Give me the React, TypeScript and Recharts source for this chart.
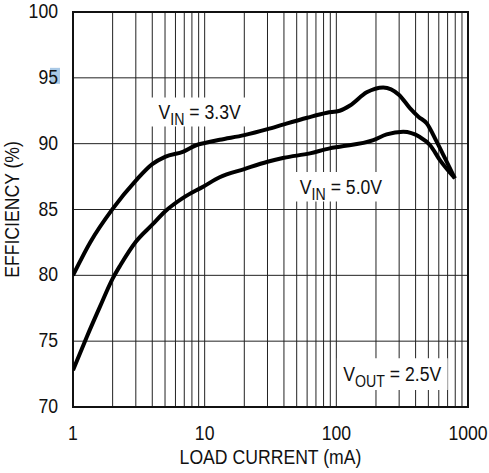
import { LineChart, Line, XAxis, YAxis, CartesianGrid, ReferenceArea, Label } from 'recharts'

// efficiency vs load current
const load33 = [1, 1.35, 2, 3, 4, 5, 6.9, 8.7, 10, 13, 20, 30, 40, 60, 85, 106, 127, 170, 227, 300, 362, 420, 485, 578, 668, 795]
const eff33 = [80, 82.5, 85.05, 87.2, 88.45, 89.0, 89.4, 89.9, 90.05, 90.3, 90.65, 91.1, 91.47, 91.97, 92.35, 92.5, 92.9, 93.9, 94.27, 93.7, 92.7, 92.05, 91.55, 90.15, 88.9, 87.37]

const load50 = [1, 1.27, 1.6, 2, 2.3, 3, 4, 5, 6.9, 9.8, 13, 20, 30, 40, 63, 89, 106, 191, 241, 322, 431, 514, 612, 795]
const eff50 = [72.8, 75.3, 77.6, 79.75, 80.8, 82.55, 83.85, 84.85, 85.9, 86.75, 87.45, 88.07, 88.63, 88.93, 89.26, 89.64, 89.77, 90.27, 90.7, 90.9, 90.5, 89.9, 88.75, 87.37]

const decadeTicks = [1, 10, 100, 1000]
const minorTicks = [
  1, 2, 3, 4, 5, 6, 7, 8, 9,
  10, 20, 30, 40, 50, 60, 70, 80, 90,
  100, 200, 300, 400, 500, 600, 700, 800, 900,
  1000,
]
const yTicks = [70, 75, 80, 85, 90, 95, 100]

const FONT = "'Liberation Sans', Arial, sans-serif"
const FS = 20.5
const SQUEEZE = 0.86 // the original uses a condensed face

const data33 = load33.map((x, i) => ({ x, y: eff33[i] }))
const data50 = load50.map((x, i) => ({ x, y: eff50[i] }))

// condensed-looking text: regular face squeezed horizontally
function Narrow({ x, y, anchor = 'middle', rotate = 0, size = FS, children }: any) {
  return (
    <g transform={`translate(${x},${y}) rotate(${rotate}) scale(${SQUEEZE},1)`}>
      <text x={0} y={0} textAnchor={anchor} fontFamily={FONT} fontSize={size} fill="#111">
        {children}
      </text>
    </g>
  )
}

function XTick({ x, y, payload }: any) {
  if (!decadeTicks.includes(payload.value)) return null
  return <Narrow x={x} y={y + 33}>{payload.value}</Narrow>
}

function YTick({ x, y, payload }: any) {
  return (
    <g>
      {payload.value === 95 && <rect x={x - 8} y={y - 10} width={10} height={16} fill="#a9c9e6" />}
      <Narrow x={x} y={y + 6} anchor="end">{payload.value}</Narrow>
    </g>
  )
}

function SubLabel({ viewBox, main, sub, rest }: any) {
  if (!viewBox) return null
  const cx = viewBox.x + viewBox.width / 2
  const cy = viewBox.y + viewBox.height / 2 + 7
  return (
    <Narrow x={cx} y={cy}>
      {main}
      <tspan fontSize={16.5} dy={6}>{sub}</tspan>
      <tspan dy={-6}>{rest}</tspan>
    </Narrow>
  )
}

function YTitle({ viewBox }: any) {
  const y = viewBox ? viewBox.y + viewBox.height / 2 : 210
  return <Narrow x={18.5} y={y} rotate={-90}>EFFICIENCY (%)</Narrow>
}

function XTitle({ viewBox }: any) {
  const x = viewBox ? viewBox.x + viewBox.width / 2 : 270
  return <Narrow x={x} y={464}>LOAD CURRENT (mA)</Narrow>
}

export default function App() {
  return (
    <div style={{ position: 'absolute', left: 0, top: 0, width: 489, height: 473, background: '#fff' }}>
      <LineChart width={489} height={473} margin={{ top: 12, right: 21, bottom: 0, left: 0 }}>
        <CartesianGrid stroke="#222" strokeWidth={1} />
        <XAxis
          dataKey="x"
          type="number"
          scale="log"
          domain={[1, 1000]}
          ticks={minorTicks}
          interval={0}
          allowDataOverflow
          height={66}
          axisLine={false}
          tickLine={false}
          tickSize={0}
          tickMargin={0}
          tick={<XTick />}
        >
          <Label content={<XTitle />} />
        </XAxis>
        <YAxis
          type="number"
          domain={[70, 100]}
          ticks={yTicks}
          interval={0}
          width={73}
          axisLine={false}
          tickLine={false}
          tickSize={0}
          tickMargin={15}
          tick={<YTick />}
        >
          <Label content={<YTitle />} />
        </YAxis>
        <ReferenceArea
          x1={3.65} x2={23} y1={91.3} y2={93.5}
          fill="#fff" fillOpacity={1} stroke="none"
          label={<SubLabel main="V" sub="IN" rest=" = 3.3V" />}
        />
        <ReferenceArea
          x1={42} x2={280} y1={85.6} y2={87.85}
          fill="#fff" fillOpacity={1} stroke="none"
          label={<SubLabel main="V" sub="IN" rest=" = 5.0V" />}
        />
        <ReferenceArea
          x1={101} x2={700} y1={71.3} y2={73.7}
          fill="#fff" fillOpacity={1} stroke="none"
          label={<SubLabel main="V" sub="OUT" rest=" = 2.5V" />}
        />
        <ReferenceArea x1={1} x2={1000} y1={70} y2={100} fill="none" stroke="#111" strokeWidth={2} />
        <Line data={data33} dataKey="y" type="monotone" stroke="#000" strokeWidth={4} dot={false} isAnimationActive={false} />
        <Line data={data50} dataKey="y" type="monotone" stroke="#000" strokeWidth={4} dot={false} isAnimationActive={false} />
      </LineChart>
    </div>
  )
}
